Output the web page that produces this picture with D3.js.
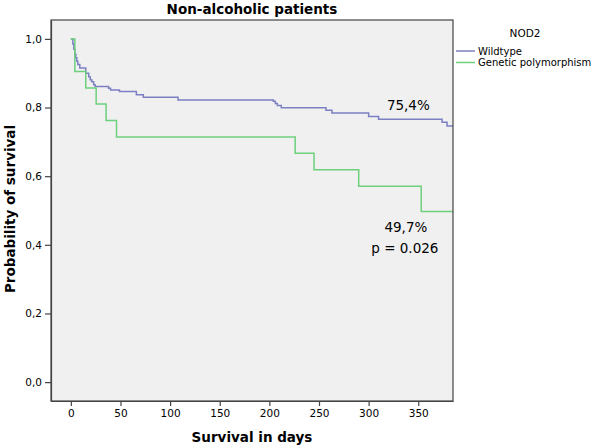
<!DOCTYPE html>
<html>
<head>
<meta charset="utf-8">
<script src="https://cdn.jsdelivr.net/npm/d3@7"></script>
<style>
  html, body { margin: 0; padding: 0; background: #ffffff; }
  svg { display: block; }
  text { font-family: "DejaVu Sans", sans-serif; fill: #000; }
</style>
</head>
<body>
<svg id="chart" width="600" height="447"></svg>
<script>
// ---- data ----
const title = "Non-alcoholic patients";
const xLabel = "Survival in days";
const yLabel = "Probability of survival";
const legendTitle = "NOD2";
const seriesNames = ["Wildtype", "Genetic polymorphism"];
const xTicks = [0, 50, 100, 150, 200, 250, 300, 350];
const yTicks = [0.0, 0.2, 0.4, 0.6, 0.8, 1.0];

// Kaplan-Meier steps: days, survival
const wildDays = [0, 2, 3, 4, 5, 6, 7, 9, 15, 18, 19.5, 21, 23, 24.5, 38, 40, 49, 66, 73, 108, 204, 206, 208, 212, 257, 263, 300, 310, 374, 379, 385];
const wildSurv = [1.0, 0.985, 0.97, 0.955, 0.945, 0.935, 0.925, 0.915, 0.90, 0.89, 0.881, 0.875, 0.866, 0.861, 0.856, 0.851, 0.847, 0.837, 0.830, 0.822, 0.818, 0.812, 0.806, 0.799, 0.792, 0.784, 0.774, 0.766, 0.757, 0.746, 0.746];
const polyDays = [0, 4, 15, 25.5, 35.5, 46, 226, 245, 290, 353, 385];
const polySurv = [1.0, 0.905, 0.857, 0.810, 0.762, 0.714, 0.667, 0.619, 0.571, 0.497, 0.497];

const annotations = [
  { text: "75,4%", day: 340, surv: 0.793 },
  { text: "49,7%", day: 337.5, surv: 0.438 },
  { text: "p = 0.026", day: 336.5, surv: 0.375 }
];

// ---- drawing ----
const svg = d3.select("#chart");
const plot = { left: 51, right: 453, top: 20, bottom: 401 };

const x = d3.scaleLinear().domain([-20, 385]).range([plot.left, plot.right]);
const y = d3.scaleLinear().domain([-0.055, 1.055]).range([plot.bottom, plot.top]);

svg.append("rect")
  .attr("x", plot.left).attr("y", plot.top)
  .attr("width", plot.right - plot.left).attr("height", plot.bottom - plot.top)
  .attr("fill", "#f0f0f0").attr("stroke", "none");

const colors = ["#7c7fc2", "#6dd07c"];
const series = [
  wildDays.map((d, i) => [d, wildSurv[i]]),
  polyDays.map((d, i) => [d, polySurv[i]])
];

svg.append("clipPath").attr("id", "clip").append("rect")
  .attr("x", plot.left).attr("y", plot.top)
  .attr("width", plot.right - plot.left).attr("height", plot.bottom - plot.top);

const line = d3.line().x(d => x(d[0])).y(d => y(d[1])).curve(d3.curveStepAfter);
series.forEach((s, i) => {
  svg.append("path").datum(s)
    .attr("d", line)
    .attr("fill", "none")
    .attr("stroke", colors[i])
    .attr("stroke-width", 1.5)
    .attr("clip-path", "url(#clip)");
});

// frame
svg.append("rect")
  .attr("x", plot.left).attr("y", plot.top)
  .attr("width", plot.right - plot.left).attr("height", plot.bottom - plot.top)
  .attr("fill", "none").attr("stroke", "#444").attr("stroke-width", 1.2);

// axes
const xAxis = d3.axisBottom(x).tickValues(xTicks).tickSize(5).tickSizeOuter(0).tickPadding(4);
const gx = svg.append("g").attr("transform", `translate(0,${plot.bottom})`).call(xAxis);
const yAxis = d3.axisLeft(y).tickValues(yTicks).tickSize(6).tickSizeOuter(0).tickPadding(3)
  .tickFormat(d => d3.format(".1f")(d).replace(".", ","));
const gy = svg.append("g").attr("transform", `translate(${plot.left},0)`).call(yAxis);
[gx, gy].forEach(g => {
  g.select(".domain").attr("stroke", "#444").attr("stroke-width", 1.2);
  g.selectAll(".tick line").attr("stroke", "#444").attr("stroke-width", 1.2);
  g.selectAll(".tick text").attr("font-family", "DejaVu Sans, sans-serif").attr("font-size", 10.5).attr("fill", "#222");
});

// titles
svg.append("text").attr("x", 252).attr("y", 14).attr("text-anchor", "middle")
  .attr("font-size", 13.5).attr("font-weight", "bold").text(title);
svg.append("text").attr("x", 252).attr("y", 442).attr("text-anchor", "middle")
  .attr("font-size", 13.5).attr("font-weight", "bold").text(xLabel);
svg.append("text").attr("transform", "translate(15,209) rotate(-90)").attr("text-anchor", "middle")
  .attr("font-size", 13.5).attr("font-weight", "bold").text(yLabel);

// annotations
annotations.forEach(a => {
  svg.append("text").attr("x", x(a.day)).attr("y", y(a.surv))
    .attr("text-anchor", "middle").attr("font-size", 13.5).text(a.text);
});

// legend
svg.append("text").attr("x", 525).attr("y", 37).attr("text-anchor", "middle")
  .attr("font-size", 10.5).text(legendTitle);
seriesNames.forEach((name, i) => {
  const ly = 51 + i * 11.5;
  svg.append("line").attr("x1", 456).attr("x2", 475).attr("y1", ly).attr("y2", ly)
    .attr("stroke", colors[i]).attr("stroke-width", 1.5);
  svg.append("text").attr("x", 478).attr("y", ly + 3.5).attr("font-size", 10).text(name);
});
</script>
</body>
</html>
